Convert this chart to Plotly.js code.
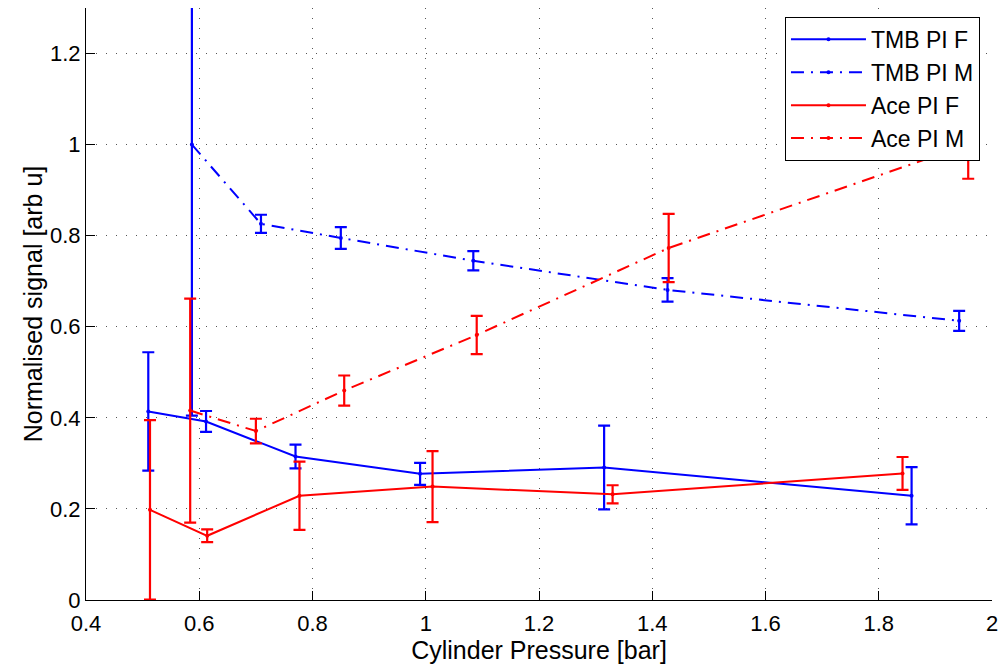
<!DOCTYPE html>
<html>
<head>
<meta charset="utf-8">
<script src="https://cdn.plot.ly/plotly-3.0.1.min.js"></script>
<style>html,body{margin:0;padding:0;background:#fff;}#chart{width:1003px;height:666px;}</style>
</head>
<body>
<div id="chart"></div>
<script>
// Data
const seriesNames = ["TMB PI F", "TMB PI M", "Ace PI F", "Ace PI M"];

const tmbF_x = [0.510, 0.612, 0.770, 0.990, 1.315, 1.858];
const tmbF_y = [0.414, 0.392, 0.315, 0.277, 0.291, 0.229];
const tmbF_err = [0.130, 0.023, 0.026, 0.024, 0.092, 0.063];

const tmbM_x = [0.587, 0.709, 0.850, 1.084, 1.427, 1.942];
const tmbM_y = [1.000, 0.826, 0.795, 0.745, 0.681, 0.613];
const tmbM_err = [0.595, 0.020, 0.024, 0.021, 0.026, 0.022];

const aceF_x = [0.513, 0.614, 0.777, 1.012, 1.330, 1.842];
const aceF_y = [0.198, 0.141, 0.229, 0.249, 0.232, 0.278];
const aceF_err = [0.197, 0.014, 0.075, 0.078, 0.020, 0.036];

const aceM_x = [0.584, 0.700, 0.856, 1.090, 1.429, 1.958];
const aceM_y = [0.416, 0.371, 0.460, 0.582, 0.773, 1.000];
const aceM_err = [0.246, 0.027, 0.033, 0.042, 0.075, 0.075];

const xTicks = [0.4, 0.6, 0.8, 1, 1.2, 1.4, 1.6, 1.8, 2];
const yTicks = [0, 0.2, 0.4, 0.6, 0.8, 1, 1.2];

const DASHDOT = "13px,7px,2px,7px";

function mk(name, x, y, err, color, dash) {
  return {
    type: "scatter", mode: "lines+markers", name: name,
    x: x, y: y,
    line: {color: color, width: 2, dash: dash},
    marker: {color: color, size: 4},
    error_y: {type: "data", array: err, visible: true, color: color, thickness: 2.2, width: 6},
    cliponaxis: true
  };
}

const traces = [
  mk(seriesNames[0], tmbF_x, tmbF_y, tmbF_err, "#0000ff", "solid"),
  mk(seriesNames[1], tmbM_x, tmbM_y, tmbM_err, "#0000ff", DASHDOT),
  mk(seriesNames[2], aceF_x, aceF_y, aceF_err, "#ff0000", "solid"),
  mk(seriesNames[3], aceM_x, aceM_y, aceM_err, "#ff0000", DASHDOT)
];

const FONT = "Liberation Sans, Arial, Helvetica, sans-serif";

const layout = {
  width: 1003, height: 666,
  margin: {l: 86, r: 11, t: 8, b: 66},
  paper_bgcolor: "#ffffff", plot_bgcolor: "#ffffff",
  font: {family: FONT, size: 22, color: "#000"},
  showlegend: true,
  legend: {
    x: 0.7715, y: 0.985, xanchor: "left", yanchor: "top",
    bgcolor: "#ffffff", bordercolor: "#000", borderwidth: 1,
    font: {family: FONT, size: 23, color: "#000"},
    itemwidth: 75, tracegroupgap: 0
  },
  xaxis: {
    range: [0.4, 2], tickvals: xTicks, ticktext: xTicks.map(String),
    showline: true, linecolor: "#000", linewidth: 1, mirror: false,
    ticks: "inside", ticklen: 9, tickcolor: "#000", tickwidth: 1,
    ticklabelstandoff: 4,
    showgrid: true, gridcolor: "#555", gridwidth: 1, griddash: "1px,9px",
    zeroline: false,
    tickfont: {family: FONT, size: 22, color: "#000"},
    title: {text: "Cylinder Pressure [bar]", font: {family: FONT, size: 25, color: "#000"}, standoff: 0}
  },
  yaxis: {
    range: [0, 1.3], tickvals: yTicks, ticktext: yTicks.map(String),
    showline: true, linecolor: "#000", linewidth: 1, mirror: false,
    ticks: "inside", ticklen: 9, tickcolor: "#000", tickwidth: 1,
    showgrid: true, gridcolor: "#555", gridwidth: 1, griddash: "1px,9px",
    zeroline: false,
    tickfont: {family: FONT, size: 22, color: "#000"},
    title: {text: "Normalised signal [arb u]", font: {family: FONT, size: 25, color: "#000"}, standoff: 0}
  }
};

Plotly.newPlot("chart", traces, layout, {displayModeBar: false, staticPlot: true});
</script>
</body>
</html>
